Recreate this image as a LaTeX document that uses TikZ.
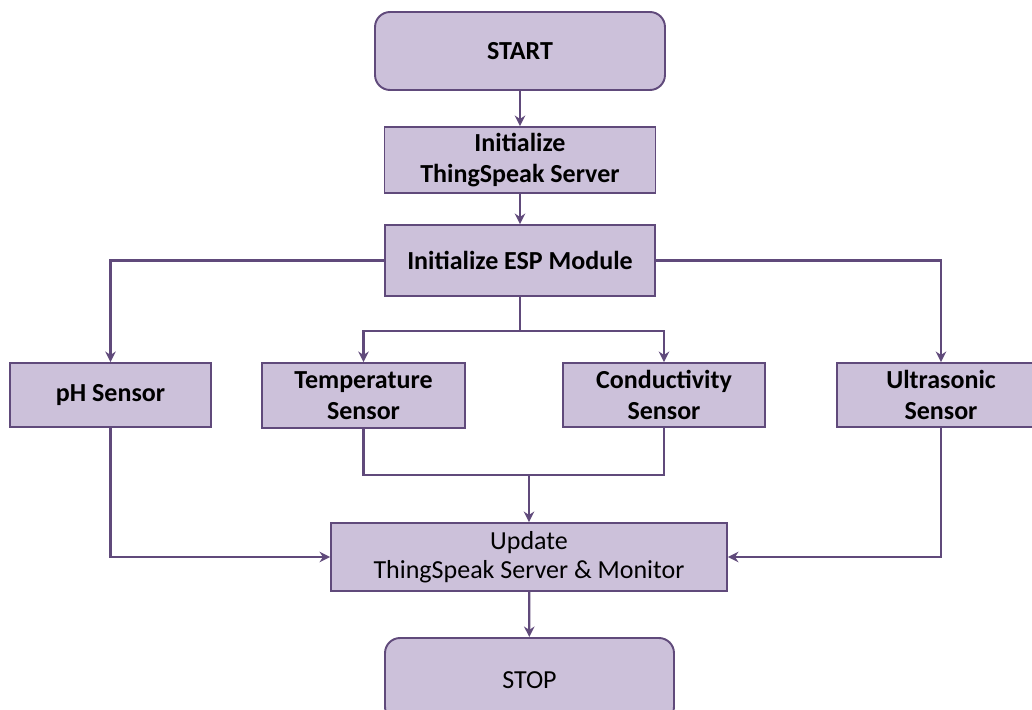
\documentclass[tikz,border=0pt]{standalone}
\usepackage{fontspec}
\setmainfont{Carlito}
\usetikzlibrary{arrows.meta}

\definecolor{boxfill}{RGB}{204,193,218}
\definecolor{boxline}{RGB}{96,74,123}

\begin{document}
\begin{tikzpicture}[x=0.02cm, y=-0.02cm,
	box/.style={shape=rectangle, draw=boxline, fill=boxfill, line width=1.1pt,
		inner sep=0pt, align=center, font=\fontsize{14.8}{17.5}\selectfont\bfseries},
	term/.style={box, rounded corners=0.3cm},
	link/.style={draw=boxline, line width=1.3pt},
	arr/.style={link, -{Stealth[length=6pt, width=6pt]}}]
	
	\useasboundingbox (0,0) rectangle (1032,710);
	
	\node[term, minimum width=5.8cm, minimum height=1.56cm] (start) at (520, 51)   {START};
	\node[box, minimum width=5.42cm, minimum height=1.32cm] (ts) at (520, 160)     {Initialize\\ThingSpeak Server};
	\node[box, minimum width=5.4cm, minimum height=1.42cm] (esp) at (520, 260.5)   {Initialize ESP Module};
	
	\node[box, minimum width=4.02cm, minimum height=1.28cm] (ph) at (110.5, 395)    {pH Sensor};
	\node[box, minimum width=4.06cm, minimum height=1.3cm] (temp) at (363.5, 395.5) {Temperature\\Sensor};
	\node[box, minimum width=4.04cm, minimum height=1.28cm] (cond) at (664, 395)    {Conductivity\\Sensor};
	\node[box, minimum width=4.16cm, minimum height=1.28cm] (ultra) at (941, 395)   {Ultrasonic\\Sensor};
	%\node[box] (ultra) at (934, 395) {Ultrasonic\\Sensor};
	
	\node[box, font=\fontsize{14.8}{16.5}\selectfont, minimum width=7.92cm, minimum height=1.36cm] (update) at (529, 557) {Update\\ThingSpeak Server \& Monitor};
	\node[term, font=\fontsize{14.8}{17.5}\selectfont, minimum width=5.78cm, minimum height=1.68cm] (stop) at (529.5, 680) {STOP};
	
	\coordinate (split) at (520, 331);
	\coordinate (join) at (529, 475);
	
	\path[arr] (start) edge (ts);
	\path[arr] (ts) edge (esp);
	\draw[arr] (esp.west) -| (ph.north);
	\draw[arr] (esp.east) -| (ultra.north);
	\draw[link] (esp.south) -- (split);
	\draw[arr] (split) -| (temp.north);
	\draw[arr] (split) -| (cond.north);
	
	\draw[link] (temp.south) |- (join) -| (cond.south);
	\draw[arr] (join) -- (update.north);
	\draw[arr] (ph.south) |- (update.west);
	\draw[arr] (ultra.south) |- (update.east);
	\path[arr] (update) edge (stop);
	
\end{tikzpicture}
\end{document}
